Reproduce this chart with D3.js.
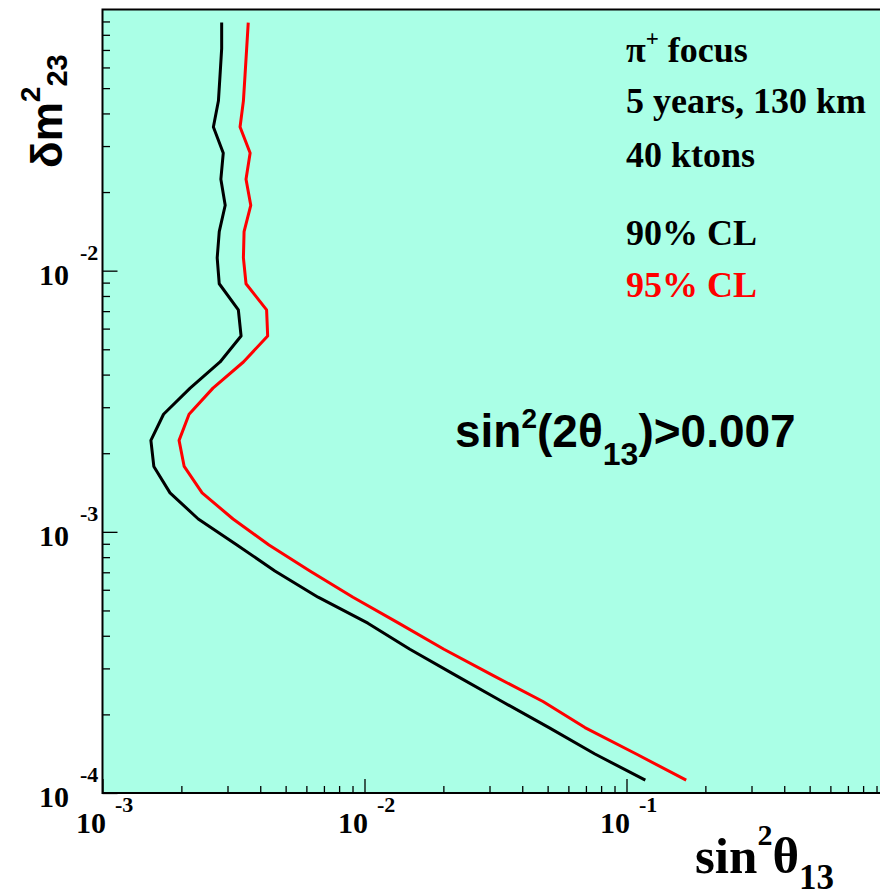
<!DOCTYPE html>
<html>
<head>
<meta charset="utf-8">
<script src="https://cdn.jsdelivr.net/npm/d3@7"></script>
<style>
  body { margin: 0; background: #fff; }
  svg { display: block; }
</style>
</head>
<body>
<div id="canvas"></div>
<script>
// dm2_23 grid (y) and the sin^2 theta13 reach for each CL (x)
var dm2 = [0.0891, 0.0708, 0.0562, 0.0447, 0.0355, 0.0282, 0.0224, 0.0178, 0.0141, 0.0112,
           0.00891, 0.00708, 0.00562, 0.00447, 0.00355, 0.00282, 0.00224, 0.00178, 0.00141, 0.00112,
           0.000891, 0.000708, 0.000562, 0.000447, 0.000355, 0.000282, 0.000224, 0.000178, 0.000141, 0.000112];
var cl90 = [2.85e-3, 2.85e-3, 2.81e-3, 2.77e-3, 2.65e-3, 2.89e-3, 2.83e-3, 2.94e-3, 2.79e-3, 2.74e-3,
            2.79e-3, 3.30e-3, 3.38e-3, 2.81e-3, 2.16e-3, 1.71e-3, 1.53e-3, 1.57e-3, 1.81e-3, 2.32e-3,
            3.26e-3, 4.55e-3, 6.65e-3, 1.03e-2, 1.49e-2, 2.23e-2, 3.35e-2, 5.06e-2, 7.58e-2, 1.18e-1];
var cl95 = [3.60e-3, 3.55e-3, 3.50e-3, 3.45e-3, 3.35e-3, 3.66e-3, 3.53e-3, 3.68e-3, 3.47e-3, 3.45e-3,
            3.53e-3, 4.23e-3, 4.27e-3, 3.45e-3, 2.64e-3, 2.14e-3, 1.96e-3, 2.05e-3, 2.40e-3, 3.15e-3,
            4.32e-3, 6.19e-3, 9.04e-3, 1.35e-2, 2.01e-2, 3.09e-2, 4.80e-2, 6.94e-2, 1.09e-1, 1.69e-1];

var xMajor = [1e-3, 1e-2, 1e-1];
var xLabels = ["-3", "-2", "-1"];
var yMajor = [1e-4, 1e-3, 1e-2];
var yLabels = ["-4", "-3", "-2"];
var infoLines = ["5 years, 130 km", "40 ktons"];

var width = 880;
var height = 896;
var bg = "#aaffe6";
var serif = "'Liberation Serif', 'Times New Roman', serif";
var sans = "'Liberation Sans', Arial, Helvetica, sans-serif";

var svg = d3.select("#canvas").append("svg")
  .attr("width", width)
  .attr("height", height);

// pad edges (right edge runs past the canvas, as in the original)
var padL = 102.5, padR = 888.5, padT = 9.5, padB = 793;

var x = d3.scaleLog().domain([1e-3, 1]).range([padL, padR]);
var y = d3.scaleLog().domain([1e-4, 1e-1]).range([padB, padT]);

svg.append("rect")
  .attr("x", padL).attr("y", padT)
  .attr("width", padR - padL).attr("height", padB - padT)
  .attr("fill", bg)
  .attr("stroke", "black")
  .attr("stroke-width", 2);

// ticks, inward like ROOT
var yMinor = y.ticks().filter(function(d){ return yMajor.indexOf(d) < 0 && d < 0.099; });
var xMinor = x.ticks().filter(function(d){ return xMajor.indexOf(d) < 0 && d < 0.99; });

function cleanAxis(g){
  g.select(".domain").remove();
  g.selectAll(".tick line").attr("stroke", "black").attr("stroke-width", 1.3);
}

svg.append("g").attr("transform", "translate(" + padL + ",0)")
  .call(d3.axisLeft(y).tickValues(yMajor).tickSize(-15).tickFormat(""))
  .call(cleanAxis);
svg.append("g").attr("transform", "translate(" + padL + ",0)")
  .call(d3.axisLeft(y).tickValues(yMinor).tickSize(-7.5).tickFormat(""))
  .call(cleanAxis);
svg.append("g").attr("transform", "translate(0," + padB + ")")
  .call(d3.axisBottom(x).tickValues(xMajor).tickSize(-14).tickFormat(""))
  .call(cleanAxis);
svg.append("g").attr("transform", "translate(0," + padB + ")")
  .call(d3.axisBottom(x).tickValues(xMinor).tickSize(-7).tickFormat(""))
  .call(cleanAxis);

// tick labels  10^n
yMajor.forEach(function(v, i){
  svg.append("text")
    .attr("x", 69).attr("y", y(v) + 14)
    .attr("text-anchor", "end")
    .style("font", "bold 30px " + serif)
    .text("10");
  svg.append("text")
    .attr("x", 80).attr("y", y(v) - 11)
    .style("font", "bold 22px " + serif)
    .text(yLabels[i]);
});
xMajor.forEach(function(v, i){
  svg.append("text")
    .attr("x", x(v) + 3.5).attr("y", 833)
    .attr("text-anchor", "end")
    .style("font", "bold 30px " + serif)
    .text("10");
  svg.append("text")
    .attr("x", x(v) + 12.5).attr("y", 812)
    .style("font", "bold 22px " + serif)
    .text(xLabels[i]);
});

// contours
var line = d3.line()
  .x(function(d){ return x(d[0]); })
  .y(function(d){ return y(d[1]); });

svg.append("path")
  .datum(d3.zip(cl95, dm2))
  .attr("d", line)
  .attr("fill", "none")
  .attr("stroke", "#ff0000")
  .attr("stroke-width", 3)
  .attr("stroke-linejoin", "round");

svg.append("path")
  .datum(d3.zip(cl90, dm2))
  .attr("d", line)
  .attr("fill", "none")
  .attr("stroke", "black")
  .attr("stroke-width", 3)
  .attr("stroke-linejoin", "round");

// axis titles
var yt = svg.append("text")
  .attr("transform", "translate(62,168) rotate(-90)")
  .style("font", "bold 44px " + sans);
yt.append("tspan").text("\u03b4m");
yt.append("tspan").attr("dy", -22).style("font-size", "28px").text("2");
yt.append("tspan").attr("dy", 27).style("font-size", "29px").text("23");

var xt = svg.append("text")
  .attr("x", 695).attr("y", 873)
  .style("font", "bold 51px " + serif);
xt.append("tspan").text("sin");
xt.append("tspan").attr("dy", -28).style("font-size", "30px").text("2");
xt.append("tspan").attr("dy", 28).text("\u03b8");
xt.append("tspan").attr("dy", 16).style("font-size", "35px").text("13");

// labels on the pad
var info = svg.append("g").style("font", "bold 36px " + serif);
var pi = info.append("text").attr("x", 626).attr("y", 62);
pi.append("tspan").text("\u03c0");
pi.append("tspan").attr("dy", -16).style("font-size", "23px").text("+");
pi.append("tspan").attr("dy", 16).text(" focus");
infoLines.forEach(function(s, i){
  info.append("text").attr("x", 626).attr("y", 113 + i * 53.5).text(s);
});
info.append("text").attr("x", 626).attr("y", 245).text("90% CL");
info.append("text").attr("x", 626).attr("y", 297).attr("fill", "#ff0000").text("95% CL");

var ann = svg.append("text")
  .attr("x", 455).attr("y", 447)
  .style("font", "bold 46px " + sans);
ann.append("tspan").text("sin");
ann.append("tspan").attr("dy", -19).style("font-size", "28px").text("2");
ann.append("tspan").attr("dy", 19).text("(2\u03b8");
ann.append("tspan").attr("dy", 18).style("font-size", "32px").text("13");
ann.append("tspan").attr("dy", -18).text(")>0.007");
</script>
</body>
</html>
